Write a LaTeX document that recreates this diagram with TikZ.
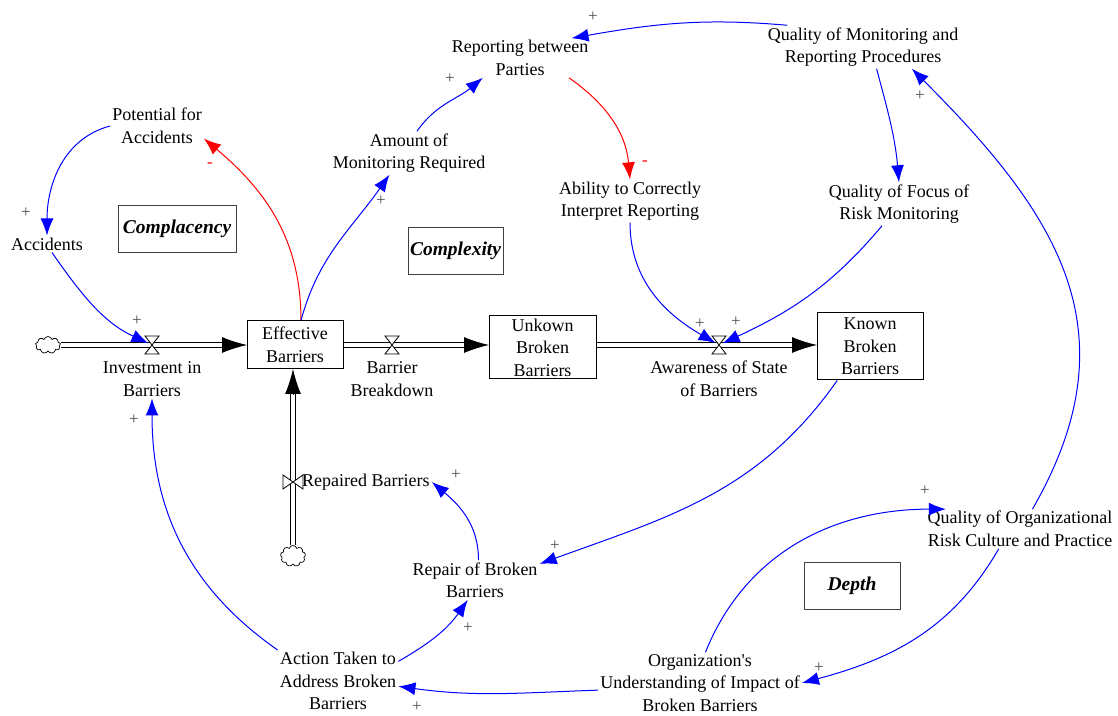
\documentclass[tikz,border=0pt]{standalone}
\usepackage{fontspec}
\setmainfont{Liberation Serif}
\usetikzlibrary{arrows.meta}
\usetikzlibrary{calc}
\usetikzlibrary{shapes.symbols}

\begin{document}
\begin{tikzpicture}[x=1pt,y=1pt,>=latex,
		var/.style={align=center,inner sep=2pt,font=\fontsize{18}{22.5}\selectfont},
		stock/.style={draw,line width=1pt,align=center,inner sep=2pt,font=\fontsize{18}{22.5}\selectfont},
		loopbox/.style={draw=black!75,line width=1pt,minimum height=47pt,inner sep=2pt,font=\fontsize{19.5}{22}\selectfont\bfseries\itshape},
		src/.style={cloud,draw,cloud puffs=9,aspect=1.4,inner sep=0pt,line width=0.7pt},
		pipeline/.style={draw=black,line width=0.8pt},
		pipetip/.style={-{Latex[length=25pt,width=16pt]},line width=0.8pt},
		valve/.style={draw,fill=white,line width=0.8pt},
		poslink/.style={draw=blue,line width=1pt,-{Latex[length=17pt,width=13pt]}},
		neglink/.style={draw=red,line width=1pt,-{Latex[length=17pt,width=13pt]}},
		plus/.style={text=black!70,font=\fontsize{17}{17}\selectfont,inner sep=0pt},
		minus/.style={text=red,font=\fontsize{17}{17}\selectfont,inner sep=0pt},
	]
	\useasboundingbox (0,0) rectangle (1118,715);

	% stocks
	\node[stock,minimum width=96pt,minimum height=48pt] (eb) at (295,370) {Effective\\Barriers};
	\node[stock,minimum width=107pt,minimum height=63pt] (ubb) at (542.5,367.5) {Unkown\\Broken\\Barriers};
	\node[stock,minimum width=106pt,minimum height=67pt] (kbb) at (870,368.5) {Known\\Broken\\Barriers};
	\node[src,minimum width=25pt,minimum height=17pt] (src1) at (48,370) {};
	\node[src,minimum width=25pt,minimum height=21pt] (src2) at (293,159) {};

	% flows
	\coordinate (vInv) at (152,370);
	\coordinate (vBrk) at (392,370);
	\coordinate (vAwr) at (719,370);
	\coordinate (vRep) at (293,233);
	\coordinate (srcOut) at (61,370);
	\coordinate (ebIn) at (247,370);
	\coordinate (ebOut) at (343.5,370);
	\coordinate (ubbIn) at (489,370);
	\coordinate (ubbOut) at (596,370);
	\coordinate (kbbIn) at (817,370);
	\coordinate (ebBot) at (293,346);
	\foreach \a/\b in {srcOut/ebIn,ebOut/ubbIn,ubbOut/kbbIn}{
		\foreach \d in {-2.4,2.4}
			\draw[pipeline] ($(\a)+(0,\d)$) -- ($(\b)+(-22,\d)$);
		\draw[pipetip] ($(\b)+(-25,0)$) -- (\b);
	}
	\foreach \d in {-2.4,2.4}
		\draw[pipeline] ($(src2.north)+(\d,0)$) -- ($(ebBot)+(\d,-22)$);
	\draw[pipetip] ($(ebBot)+(0,-25)$) -- (ebBot);
	\foreach \v in {vInv,vBrk,vAwr}
		\draw[valve,shift={(\v)}] (-7,9) -- (7,9) -- (-7,-9) -- (7,-9) -- cycle;
	\draw[valve,shift={(vRep)}] (-10,7) -- (-10,-7) -- (10,7) -- (10,-7) -- cycle;

	\node[var] (invlab) at (152,336) {Investment in\\Barriers};
	\node[var] (brklab) at (392,336) {Barrier\\Breakdown};
	\node[var] (awrlab) at (719,336) {Awareness of State\\of Barriers};
	\node[var,anchor=west] (rplab) at (300,233) {Repaired Barriers};

	% auxiliaries
	\node[var] (pfa) at (157,589) {Potential for\\Accidents};
	\node[var] (acc) at (47,471) {Accidents};
	\node[var] (amr) at (409,562) {Amount of\\Monitoring Required};
	\node[var] (rbp) at (520,657) {Reporting between\\Parties};
	\node[var] (acir) at (630,514) {Ability to Correctly\\Interpret Reporting};
	\node[var] (qmrp) at (863,668) {Quality of Monitoring and\\Reporting Procedures};
	\node[var] (qfrm) at (899,511) {Quality of Focus of\\Risk Monitoring};
	\node[var] (qorc) at (1020,186) {Quality of Organizational\\Risk Culture and Practice};
	\node[var] (ouib) at (700,32) {Organization\textquotesingle s\\Understanding of Impact of\\Broken Barriers};
	\node[var] (atab) at (338,34) {Action Taken to\\Address Broken\\Barriers};
	\node[var] (rbb) at (475,135) {Repair of Broken\\Barriers};

	% loop names
	\node[loopbox,minimum width=118pt] (cmpl) at (177,486) {Complacency};
	\node[loopbox,minimum width=95pt] (cplx) at (455.5,464) {Complexity};
	\node[loopbox,minimum width=96pt] (dpth) at (852,129) {Depth};

	% links
	\draw[poslink] (pfa.west) to[out=195,in=90] (acc.north);
	\draw[poslink,shorten >=4pt] (acc.-60) to[out=-55,in=155] (vInv);
	\draw[neglink] ([xshift=6]eb.north) to[out=90,in=-40] (pfa.-15);
	\draw[poslink] ([xshift=6]eb.north) to[out=75,in=-125] (amr.-132);
	\draw[poslink] (amr.70) to[out=55,in=-140] (rbp.-152);
	\draw[poslink] (qmrp.164) to[out=175,in=10] (rbp.21);
	\draw[neglink] (rbp.-22) to[out=-35,in=95] (acir.north);
	\draw[poslink] (qmrp.-58) to[out=-75,in=95] (qfrm.north);
	\draw[poslink,shorten >=4pt] (acir.south) to[out=-90,in=150] (vAwr);
	\draw[poslink,shorten >=4pt] (qfrm.-128) to[out=-130,in=25] (vAwr);
	\draw[poslink] (kbb.-134) to[out=-125,in=20] (rbb.14);
	\draw[poslink] (rbb.80) to[out=90,in=-40] (rplab.east);
	\draw[poslink] (atab.18) to[out=30,in=-125] (rbb.-110);
	\draw[poslink] (atab.north west) to[out=145,in=-90] (invlab.south);
	\draw[poslink] (ouib.-176) to[out=182,in=-8] (atab.-5);
	\draw[poslink] (ouib.80) to[out=68,in=180] (qorc.165);
	\draw[poslink] (qorc.-137) to[out=-120,in=15] (ouib.east);
	\draw[poslink] (qorc.58) to[out=60,in=-45,looseness=1.15] (qmrp.-24);

	% polarities
	\foreach \p [count=\i] in {(26,502),(137,394),(381,514),(450,636),(593,698),(700,391),(736,393),(555,169),(456,240),(468,87),(134,295),(417,8),(925,224),(819,47),(920,619)}
		\node[plus] (s\i) at \p {+};
	\node[minus] (m1) at (210,550) {-};
	\node[minus] (m2) at (645,552) {-};
\end{tikzpicture}
\end{document}
